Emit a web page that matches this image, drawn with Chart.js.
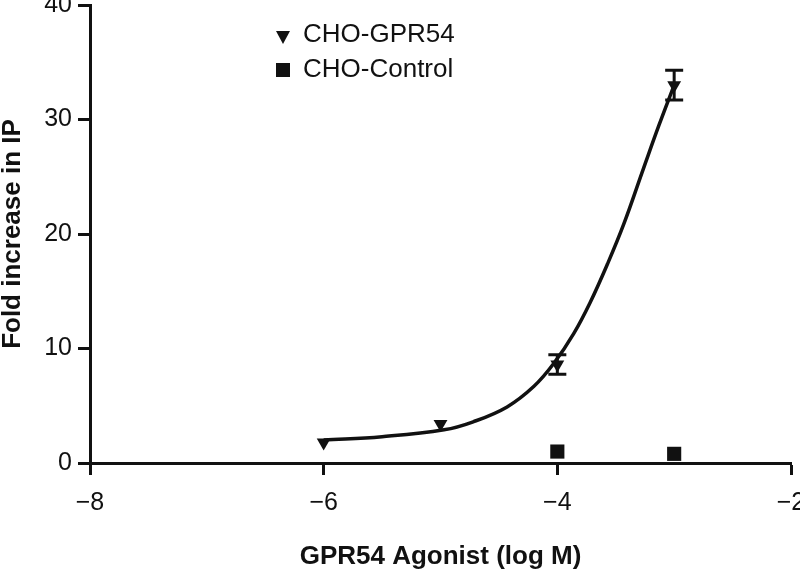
<!DOCTYPE html>
<html>
<head>
<meta charset="utf-8">
<script src="https://cdn.jsdelivr.net/npm/chart.js@4/dist/chart.umd.min.js"></script>
<style>
html,body{margin:0;padding:0;background:#fff;}
#wrap{width:800px;height:570px;}
</style>
</head>
<body>
<div id="wrap"><canvas id="c" width="800" height="570"></canvas></div>
<script>
// ---- data ----
const gprX = [-6, -5, -4, -3];
const gprValues = [1.8, 3.4, 8.6, 33.0];
const gprErrors = [0, 0, 0.85, 1.3];
const ctrlX = [-4, -3];
const ctrlValues = [1.0, 0.8];
// fitted curve
const fitX = [-6, -5.5, -4.97, -4.72, -4.43, -4.2, -4.03, -3.86, -3.72, -3.57, -3.43, -3.26, -3.13, -3.0];
const fitY = [2.0, 2.3, 2.9, 3.6, 4.9, 6.7, 8.7, 11.3, 14.0, 17.4, 20.9, 25.8, 29.5, 33.0];
const xTickValues = [-8, -6, -4, -2];
const xTickLabels = ['\u22128', '\u22126', '\u22124', '\u22122'];
const yTickValues = [0, 10, 20, 30, 40];
const yTickLabels = ['0', '10', '20', '30', '40'];
const seriesNames = ['CHO-GPR54', 'CHO-Control'];
const xTitle = 'GPR54 Agonist (log M)';
const yTitle = 'Fold increase in IP';

const FONT = '"Liberation Sans", Arial, Helvetica, sans-serif';

const errorBars = {
  id: 'errorBars',
  afterDatasetsDraw(chart) {
    const ctx = chart.ctx, xs = chart.scales.x, ys = chart.scales.y;
    ctx.save();
    ctx.strokeStyle = '#111';
    ctx.lineWidth = 3;
    gprX.forEach((xv, i) => {
      const e = gprErrors[i];
      if (!e) return;
      const px = xs.getPixelForValue(xv);
      const t = ys.getPixelForValue(gprValues[i] + e);
      const b = ys.getPixelForValue(gprValues[i] - e);
      ctx.beginPath();
      ctx.moveTo(px, t); ctx.lineTo(px, b);
      ctx.moveTo(px - 9, t); ctx.lineTo(px + 9, t);
      ctx.moveTo(px - 9, b); ctx.lineTo(px + 9, b);
      ctx.stroke();
    });
    ctx.restore();
  }
};

const legendPlugin = {
  id: 'customLegend',
  afterDraw(chart) {
    const ctx = chart.ctx;
    ctx.save();
    ctx.fillStyle = '#111';
    const tx = 283, ty = 36;
    ctx.beginPath();
    ctx.moveTo(tx - 7, ty - 5);
    ctx.lineTo(tx + 7, ty - 5);
    ctx.lineTo(tx, ty + 8);
    ctx.closePath();
    ctx.fill();
    ctx.fillRect(276, 63, 14, 14);
    ctx.font = '26px ' + FONT;
    ctx.textBaseline = 'middle';
    ctx.textAlign = 'left';
    ctx.fillText(seriesNames[0], 303, 35);
    ctx.fillText(seriesNames[1], 303, 70);
    ctx.restore();
  }
};

const tickFont = { family: FONT, size: 25 };
const titleFont = { family: FONT, size: 26, weight: 'bold', lineHeight: 1.0 };

new Chart(document.getElementById('c'), {
  type: 'scatter',
  data: {
    datasets: [
      {
        label: 'fit',
        data: fitX.map((x, i) => ({ x, y: fitY[i] })),
        showLine: true,
        borderColor: '#111',
        borderWidth: 3.5,
        pointRadius: 0,
        tension: 0.4,
        fill: false
      },
      {
        label: seriesNames[0],
        data: gprX.map((x, i) => ({ x, y: gprValues[i] })),
        pointStyle: 'triangle',
        rotation: 180,
        radius: 8,
        backgroundColor: '#111',
        borderColor: '#111',
        borderWidth: 0
      },
      {
        label: seriesNames[1],
        data: ctrlX.map((x, i) => ({ x, y: ctrlValues[i] })),
        pointStyle: 'rect',
        radius: 10,
        backgroundColor: '#111',
        borderColor: '#111',
        borderWidth: 0
      }
    ]
  },
  options: {
    responsive: false,
    animation: false,
    devicePixelRatio: 1,
    layout: { autoPadding: false, padding: { left: 0, right: 0, top: 0, bottom: 0 } },
    plugins: { legend: { display: false }, tooltip: { enabled: false } },
    scales: {
      x: {
        type: 'linear',
        min: -8, max: -2,
        afterBuildTicks(s) { s.ticks = xTickValues.map(v => ({ value: v })); },
        afterFit(s) { s.height = 107; s.paddingLeft = 0; s.paddingRight = 9; },
        ticks: {
          font: tickFont, color: '#111', padding: 13,
          callback: (v) => xTickLabels[xTickValues.indexOf(v)] ?? ''
        },
        grid: { display: true, drawOnChartArea: false, drawTicks: true, tickLength: 12, tickWidth: 3, tickColor: '#111', color: '#111' },
        border: { display: true, width: 3, color: '#111' },
        title: { display: true, text: xTitle, font: titleFont, color: '#111', padding: { top: 0, bottom: 0 } }
      },
      y: {
        type: 'linear',
        min: 0, max: 40,
        afterBuildTicks(s) { s.ticks = yTickValues.map(v => ({ value: v })); },
        afterFit(s) { s.width = 90; s.paddingTop = 5; s.paddingBottom = 0; },
        ticks: {
          font: tickFont, color: '#111', padding: 6,
          callback: (v) => yTickLabels[yTickValues.indexOf(v)] ?? ''
        },
        grid: { display: true, drawOnChartArea: false, drawTicks: true, tickLength: 12, tickWidth: 3, tickColor: '#111', color: '#111' },
        border: { display: true, width: 3, color: '#111' },
        title: { display: true, text: yTitle, font: titleFont, color: '#111', padding: { top: 0, bottom: 0 } }
      }
    }
  },
  plugins: [errorBars, legendPlugin]
});
</script>
</body>
</html>
